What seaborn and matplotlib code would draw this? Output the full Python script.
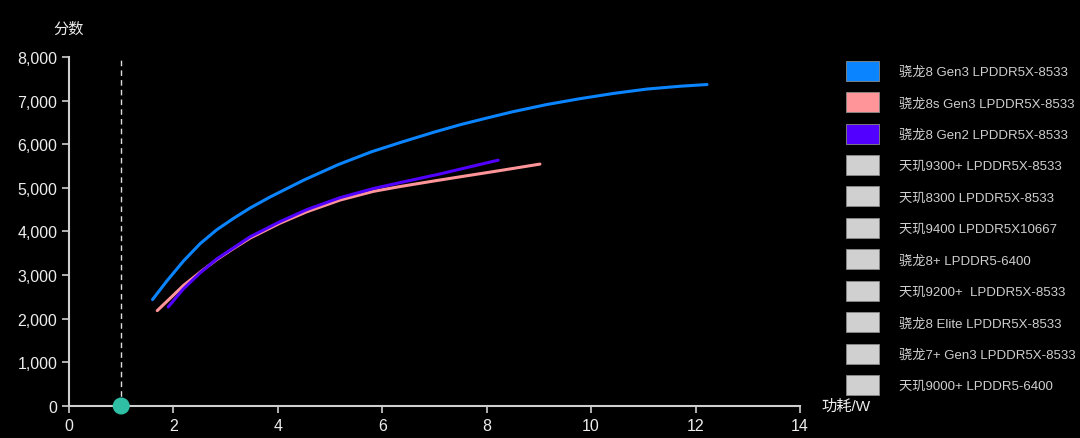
import numpy as np
import pandas as pd
import matplotlib
matplotlib.use("Agg")
import matplotlib.pyplot as plt
import matplotlib.ticker as mticker
from matplotlib.patches import Patch
import seaborn as sns

# === 1. Data ===
sd8g3_power = [1.60, 1.87, 2.19, 2.51, 2.83, 3.15, 3.47, 3.85, 4.50, 5.15, 5.80, 6.40,
               7.00, 7.50, 8.00, 8.50, 9.15, 9.79, 10.43, 11.07, 11.71, 12.22]
sd8g3_score = [2440, 2860, 3320, 3720, 4040, 4300, 4540, 4790, 5180, 5530, 5830, 6060,
               6280, 6450, 6600, 6745, 6910, 7045, 7165, 7265, 7330, 7369]

sd8sg3_power = [1.69, 2.19, 2.51, 2.83, 3.15, 3.47, 4.04, 4.55, 5.19, 5.83, 6.34,
                7.00, 7.50, 8.22, 9.02]
sd8sg3_score = [2186, 2760, 3066, 3356, 3610, 3850, 4190, 4450, 4720, 4920, 5030,
                5160, 5255, 5390, 5545]

sd8g2_power = [1.90, 2.19, 2.51, 2.83, 3.47, 4.04, 4.55, 5.19, 5.83, 6.34, 7.09, 8.22]
sd8g2_score = [2270, 2684, 3050, 3370, 3880, 4225, 4500, 4775, 4985, 5120, 5315, 5635]

legend_names = ["骁龙8 Gen3 LPDDR5X-8533", "骁龙8s Gen3 LPDDR5X-8533", "骁龙8 Gen2 LPDDR5X-8533",
                "天玑9300+ LPDDR5X-8533", "天玑8300 LPDDR5X-8533", "天玑9400 LPDDR5X10667",
                "骁龙8+ LPDDR5-6400", "天玑9200+  LPDDR5X-8533", "骁龙8 Elite LPDDR5X-8533",
                "骁龙7+ Gen3 LPDDR5X-8533", "天玑9000+ LPDDR5-6400"]
legend_colors = ["#0A84FF", "#FF9499", "#5200FF"] + ["#D0D0D0"] * 8

marker_power = [1.0]
marker_score = [0]

x_ticks = [0, 2, 4, 6, 8, 10, 12, 14]
y_ticks = [0, 1000, 2000, 3000, 4000, 5000, 6000, 7000, 8000]

# === 2. Theme ===
sns.set_theme(style="dark")
plt.rcParams['font.family'] = ['Liberation Sans', 'Noto Sans CJK SC', 'DejaVu Sans']
axis_col = "#CFCFCF"
text_col = "#EDEDED"

fig = plt.figure(figsize=(10.8, 4.39), dpi=100, facecolor="black")
ax = fig.add_axes([0.0639, 0.0729, 0.6768, 0.795])
ax.set_facecolor("black")

df = pd.concat([
    pd.DataFrame({"power": sd8g3_power, "score": sd8g3_score, "chip": legend_names[0]}),
    pd.DataFrame({"power": sd8sg3_power, "score": sd8sg3_score, "chip": legend_names[1]}),
    pd.DataFrame({"power": sd8g2_power, "score": sd8g2_score, "chip": legend_names[2]}),
], ignore_index=True)

palette = dict(zip(legend_names[:3], legend_colors[:3]))
sns.lineplot(data=df, x="power", y="score", hue="chip", palette=palette,
             linewidth=2.2, legend=False, ax=ax, sort=False)
for ln in ax.lines:
    ln.set_solid_joinstyle("round")
    ln.set_solid_capstyle("round")

# reference line + marker
ax.vlines(marker_power, 0, 8000, colors="#DDDDDD", linestyles=(0, (4, 3)), linewidth=1)
sns.scatterplot(x=marker_power, y=marker_score, s=150, color="#2EBFA5",
                edgecolor="none", ax=ax, zorder=5, clip_on=False)

# === 3. Axes ===
ax.set_xlim(0, 14)
ax.set_ylim(0, 8000)
ax.set_xticks(x_ticks)
ax.set_yticks(y_ticks)
ax.yaxis.set_major_formatter(mticker.FuncFormatter(lambda v, p: f"{int(v):,}"))
ax.grid(False)
for side in ["top", "right"]:
    ax.spines[side].set_visible(False)
for side in ["left", "bottom"]:
    ax.spines[side].set_visible(True)
    ax.spines[side].set_color(axis_col)
    ax.spines[side].set_linewidth(1.5)
ax.tick_params(axis="both", colors=axis_col, labelcolor=text_col, labelsize=11.5,
               direction="out", length=5, width=1.2, bottom=True, left=True)
ax.set_xlabel("")
ax.set_ylabel("")
ax.text(0.0, 1.06, "分数", transform=ax.transAxes, color=text_col, fontsize=11,
        ha="center", va="bottom")
ax.text(1.03, 0.0, "功耗/W", transform=ax.transAxes, color=text_col, fontsize=11,
        ha="left", va="center")

# === 4. Legend ===
handles = [Patch(facecolor=c, edgecolor="#8A8A8A", linewidth=0.6) for c in legend_colors]
fig.legend(handles, legend_names, loc="upper left", bbox_to_anchor=(0.7784, 0.8715),
           frameon=False, fontsize=9.5, labelcolor="#CFCFCF",
           handlelength=2.5, handleheight=1.95, handletextpad=1.5,
           labelspacing=0.87, borderaxespad=0)

fig.savefig("out.png", dpi=100, facecolor="black")
plt.close(fig)
